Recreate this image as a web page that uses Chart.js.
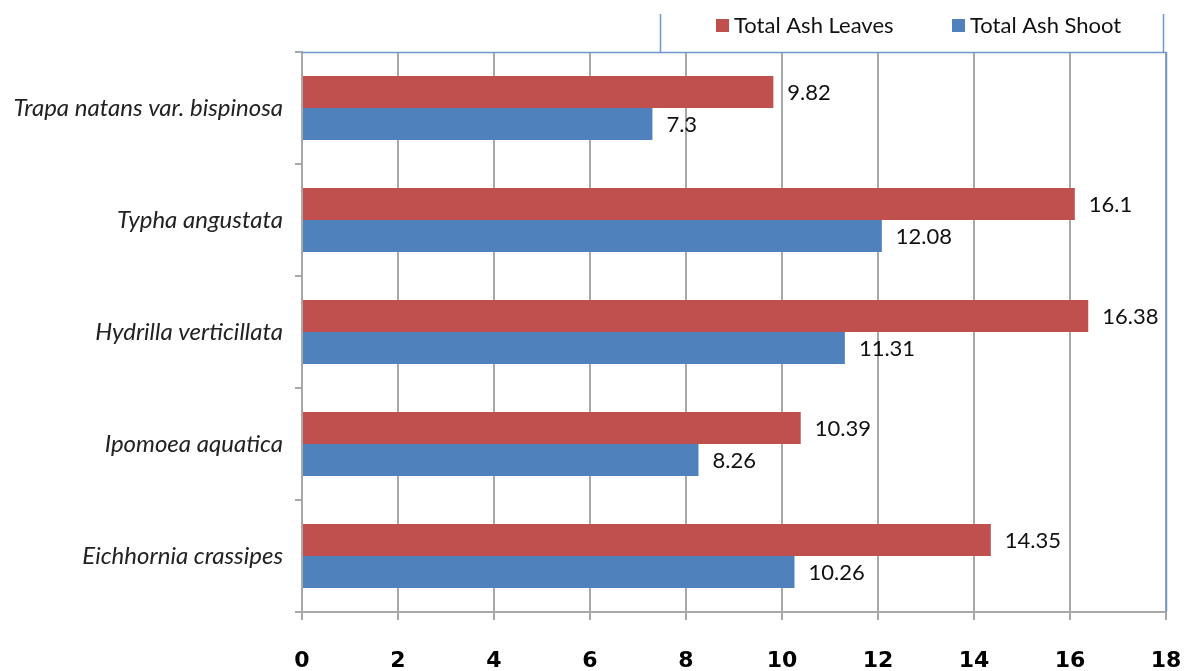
<!DOCTYPE html>
<html>
<head>
<meta charset="utf-8">
<script src="https://cdn.jsdelivr.net/npm/chart.js@4/dist/chart.umd.min.js"></script>
<style>
  html, body { margin: 0; padding: 0; background: #fff; }
  #wrap { width: 1187px; height: 671px; }
</style>
</head>
<body>
<div id="wrap"><canvas id="c" width="1187" height="671"></canvas></div>
<script>
// Species, listed top to bottom
const species = [
  'Trapa natans var. bispinosa',
  'Typha angustata',
  'Hydrilla verticillata',
  'Ipomoea aquatica',
  'Eichhornia crassipes'
];
// Total ash content (%)
const ashLeaves = [9.82, 16.1, 16.38, 10.39, 14.35];
const ashShoot  = [7.3, 12.08, 11.31, 8.26, 10.26];
const seriesNames = ['Total Ash Leaves', 'Total Ash Shoot'];
const xTicks = [0, 2, 4, 6, 8, 10, 12, 14, 16, 18];

const RED = '#C0504D';
const BLUE = '#4F81BD';
const GRID = '#a8a8a8';
const FRAME = '#6f97cc';

// Value labels to the right of each bar
const valueLabels = {
  id: 'valueLabels',
  afterDatasetsDraw(chart) {
    const ctx = chart.ctx;
    ctx.save();
    ctx.font = '22px Lato, "Open Sans", sans-serif';
    ctx.fillStyle = '#111';
    ctx.textAlign = 'left';
    ctx.textBaseline = 'middle';
    chart.data.datasets.forEach((ds, di) => {
      chart.getDatasetMeta(di).data.forEach((bar, i) => {
        ctx.fillText(String(ds.data[i]), bar.x + 14, bar.y + 1);
      });
    });
    ctx.restore();
  }
};

// Blue plot frame (top and right) plus the legend box above the plot
const frameAndLegend = {
  id: 'frameAndLegend',
  afterDraw(chart) {
    const ctx = chart.ctx;
    const a = chart.chartArea;
    ctx.save();
    ctx.strokeStyle = FRAME;
    ctx.lineWidth = 1.5;
    ctx.beginPath();
    ctx.moveTo(a.left, a.top + 0.5);
    ctx.lineTo(a.right, a.top + 0.5);
    ctx.moveTo(a.right + 0.5, a.top);
    ctx.lineTo(a.right + 0.5, a.bottom);
    // legend box sides
    ctx.moveTo(660.5, 14);
    ctx.lineTo(660.5, a.top);
    ctx.moveTo(1163.5, 14);
    ctx.lineTo(1163.5, a.top);
    ctx.stroke();

    const items = [
      { x: 716, color: RED, text: chart.data.datasets[0].label },
      { x: 952, color: BLUE, text: chart.data.datasets[1].label }
    ];
    ctx.font = '22px Lato, "Open Sans", sans-serif';
    ctx.textBaseline = 'middle';
    ctx.textAlign = 'left';
    items.forEach(it => {
      ctx.fillStyle = it.color;
      ctx.fillRect(it.x, 19, 13, 13);
      ctx.fillStyle = '#111';
      ctx.fillText(it.text, it.x + 18, 26);
    });
    ctx.restore();
  }
};

new Chart(document.getElementById('c'), {
  type: 'bar',
  data: {
    labels: species,
    datasets: [
      { label: seriesNames[0], data: ashLeaves, backgroundColor: RED, borderWidth: 0 },
      { label: seriesNames[1], data: ashShoot, backgroundColor: BLUE, borderWidth: 0 }
    ]
  },
  options: {
    indexAxis: 'y',
    responsive: false,
    animation: false,
    devicePixelRatio: 1,
    layout: { padding: { top: 52, right: 21, left: 0, bottom: 0 } },
    datasets: { bar: { categoryPercentage: 0.571, barPercentage: 1.0 } },
    plugins: {
      legend: { display: false },
      tooltip: { enabled: false }
    },
    scales: {
      x: {
        type: 'linear',
        min: 0,
        max: 18,
        afterBuildTicks(scale) { scale.ticks = xTicks.map(v => ({ value: v })); },
        afterFit(scale) {
          scale.height = 59;
          scale.paddingLeft = 0;
          scale.paddingRight = 0;
        },
        grid: { color: GRID, lineWidth: 2, tickLength: 8, drawTicks: true },
        border: { color: GRID, width: 2 },
        ticks: {
          padding: 28,
          color: '#000',
          font: { family: '"DejaVu Sans", sans-serif', size: 22, weight: 'bold' }
        }
      },
      y: {
        type: 'category',
        offset: true,
        afterFit(scale) { scale.width = 302; },
        grid: { drawOnChartArea: false, drawTicks: true, tickLength: 7, color: GRID, lineWidth: 2, offset: true },
        border: { color: GRID, width: 2 },
        ticks: {
          padding: 12,
          color: '#222',
          font: { family: 'Lato, "Open Sans", sans-serif', size: 24, style: 'italic' }
        }
      }
    }
  },
  plugins: [valueLabels, frameAndLegend]
});
</script>
</body>
</html>
